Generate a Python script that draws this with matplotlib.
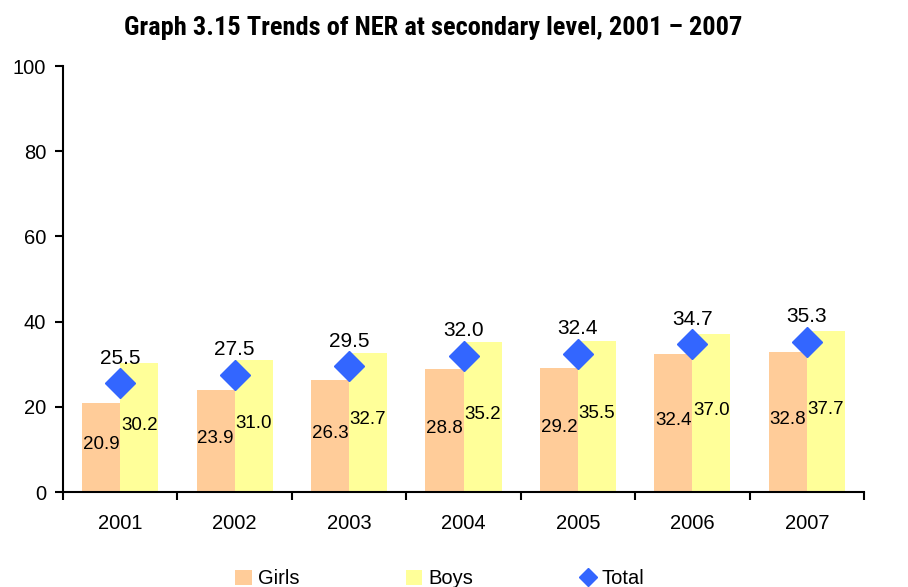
import matplotlib
matplotlib.use("Agg")
import matplotlib.pyplot as plt
from matplotlib import font_manager
import numpy as np

years = ["2001", "2002", "2003", "2004", "2005", "2006", "2007"]
girls = [20.9, 23.9, 26.3, 28.8, 29.2, 32.4, 32.8]
boys = [30.2, 31.0, 32.7, 35.2, 35.5, 37.0, 37.7]
total = [25.5, 27.5, 29.5, 32.0, 32.4, 34.7, 35.3]

plt.rcParams['font.family'] = ['Liberation Sans', 'DejaVu Sans']

avail = {f.name for f in font_manager.fontManager.ttflist}
title_fam = None
for cand in ["Liberation Sans Narrow", "Roboto Condensed", "Open Sans Condensed", "Roboto"]:
    if cand in avail:
        title_fam = cand
        break
if title_fam is None:
    title_fam = "Liberation Sans"

fig = plt.figure(figsize=(9.08, 5.87), dpi=100)
ax = fig.add_axes([63 / 908, 1 - 492 / 587, (864 - 63) / 908, (492 - 66) / 587])

x = np.arange(len(years))
w = 0.333
bg = ax.bar(x - w / 2, girls, w, color="#FFCC99", label="Girls")
bb = ax.bar(x + w / 2, boys, w, color="#FFFF99", label="Boys")
lt, = ax.plot(x, total, linestyle="none", marker="D", markersize=15,
              color="#3366FF", label="Total")

for xi, g, b, t in zip(x, girls, boys, total):
    ax.text(xi - w / 2, g / 2 + 0.6, f"{g:.1f}", ha="center", va="center", fontsize=13.5)
    ax.text(xi + w / 2, b / 2 + 0.6, f"{b:.1f}", ha="center", va="center", fontsize=13.5)
    ax.text(xi, t + 5.9, f"{t:.1f}", ha="center", va="center", fontsize=15)

ax.set_xlim(-0.5, len(years) - 0.5)
ax.set_ylim(0, 100)
ax.set_yticks([0, 20, 40, 60, 80, 100])
ax.set_xticks(x)
ax.set_xticklabels(years)
ax.set_xticks(np.arange(len(years) + 1) - 0.5, minor=True)
ax.tick_params(axis="x", which="major", length=0, pad=16, labelsize=14.5)
ax.tick_params(axis="x", which="minor", length=6, width=1.5, direction="out")
ax.tick_params(axis="y", length=6, width=1.5, direction="out", labelsize=14.5, pad=6)
for s in ["top", "right"]:
    ax.spines[s].set_visible(False)
for s in ["left", "bottom"]:
    ax.spines[s].set_linewidth(1.5)

fig.text(433 / 908, 1 - 28 / 587, "Graph 3.15 Trends of NER at secondary level, 2001 \u2013 2007",
         ha="center", va="center", fontsize=19, fontweight="bold",
         family=[title_fam, "DejaVu Sans"])

fig.legend(handles=[bg, bb, lt], loc="center", bbox_to_anchor=(440 / 908, 1 - 579 / 587),
           ncol=3, frameon=False, fontsize=14.5, columnspacing=5.3, handlelength=0.8,
           handletextpad=0.3, markerscale=0.6)

fig.savefig("out.png", dpi=100)
